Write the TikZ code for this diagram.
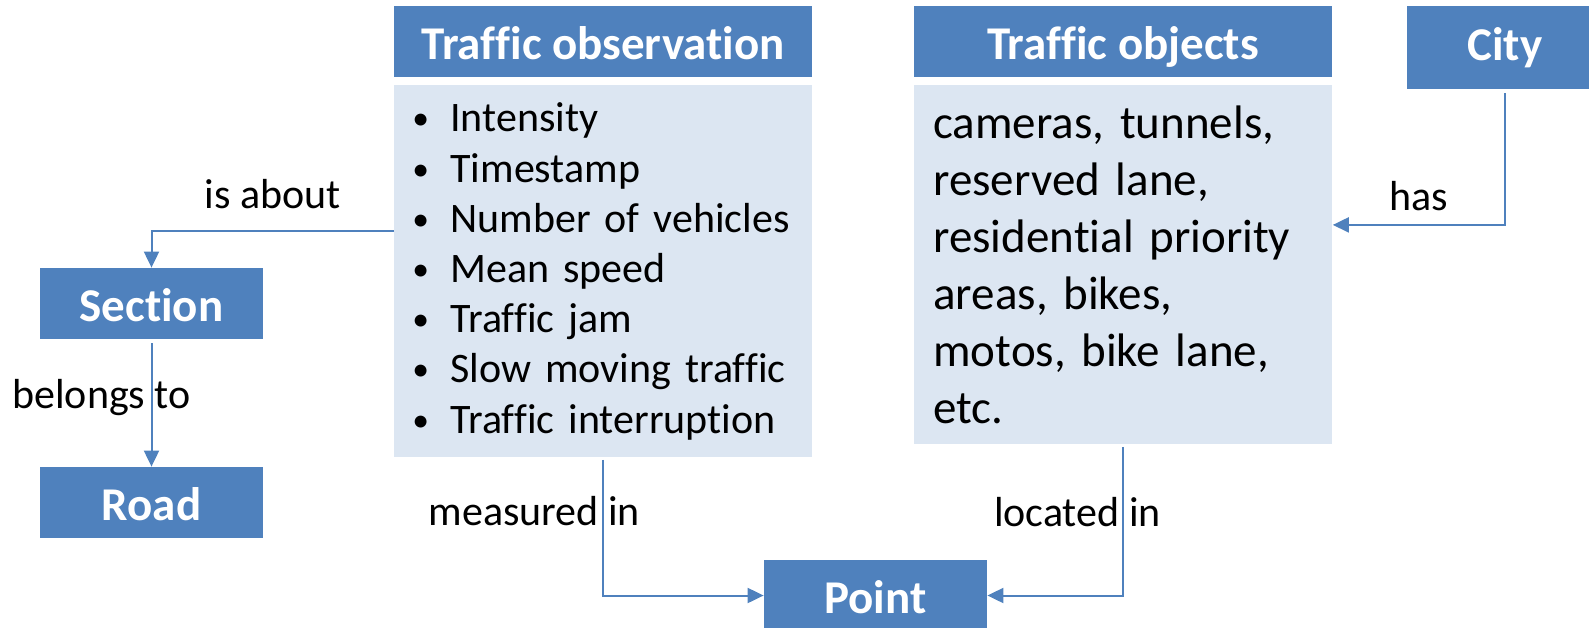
\documentclass[tikz,border=0pt]{standalone}
\usepackage{fontspec}
\setmainfont{Carlito}[Ligatures=NoCommon]
\usepackage{tikz}
\usetikzlibrary{arrows.meta}
\definecolor{boxblue}{HTML}{4F81BD}
\definecolor{boxlight}{HTML}{DCE6F2}
\newcommand{\bul}{\makebox[20pt][l]{\hspace{1pt}\raisebox{1pt}{\scalebox{0.8}{•}}}}

\begin{document}
\begin{tikzpicture}[x=0.5pt,y=-0.5pt,
  head/.style={fill=boxblue, text=white, inner sep=0pt, font=\bfseries\fontsize{23.5}{28}\selectfont, text height=17.5pt, text depth=0pt},
  small/.style={head, minimum width=111.5pt, minimum height=35.5pt},
  wide/.style={head, minimum width=209pt, minimum height=35.5pt},
  body/.style={fill=boxlight, anchor=north west, align=left, inner ysep=0pt, minimum width=209pt},
  link/.style={draw=boxblue, line width=1pt, -{Triangle[length=8pt,width=7.5pt]}},
  lbl/.style={font=\fontsize{21}{25}\selectfont, inner sep=0pt, anchor=base}]

\useasboundingbox (0,0) rectangle (1589,627);

\node[wide] (obshead) at (603,41.5) {Traffic observation};
\node[body, text width=193pt, inner xsep=8pt, minimum height=186pt,
  font=\fontsize{21}{25.1}\selectfont] (obsbody) at (394,85)
  {\bul Intensity\\ \bul Timestamp\\ \bul Number of vehicles\\ \bul Mean speed\\
   \bul Traffic jam\\ \bul Slow moving traffic\\ \bul Traffic interruption};

\node[wide] (objhead) at (1123,41.5) {Traffic objects};
\node[body, text width=190pt, inner xsep=9.5pt, minimum height=179.5pt,
  font=\fontsize{23.5}{28.5}\selectfont] (objbody) at (914,85)
  {cameras, tunnels,\\ reserved lane,\\ residential priority\\ areas, bikes,\\
   motos, bike lane,\\ etc.};

\node[head, minimum width=98pt, minimum height=41.5pt, text depth=5pt] (city) at (1505,47.5) {City};
\node[small] (section) at (151.5,303.5) {Section};
\node[small] (road) at (151.5,502.5) {Road};
\node[small] (point) at (875.5,595.5) {Point};

\draw[link] ([yshift=20pt]obsbody.west) -| node[lbl, pos=0.25, yshift=11.5pt] (isabout) {is about} (section.north);
\draw[link, shorten <=2pt] (section.south) -- node[lbl, xshift=-25pt, yshift=-2.5pt] (belongsto) {belongs to} (road.north);
\draw[link, shorten <=1pt] (obsbody.south) |- node[lbl, pos=0.25, xshift=-34.5pt, yshift=0.5pt] (measuredin) {measured in} (point.west);
\draw[link, shorten <=1pt] (objbody.south) |- node[lbl, pos=0.25, xshift=-23pt, yshift=-3pt] (locatedin) {located in} (point.east);
\draw[link, shorten <=2pt] (city.south) |- node[lbl, pos=0.75, yshift=7pt] (has) {has} ([yshift=20pt]objbody.east);
\end{tikzpicture}
\end{document}
